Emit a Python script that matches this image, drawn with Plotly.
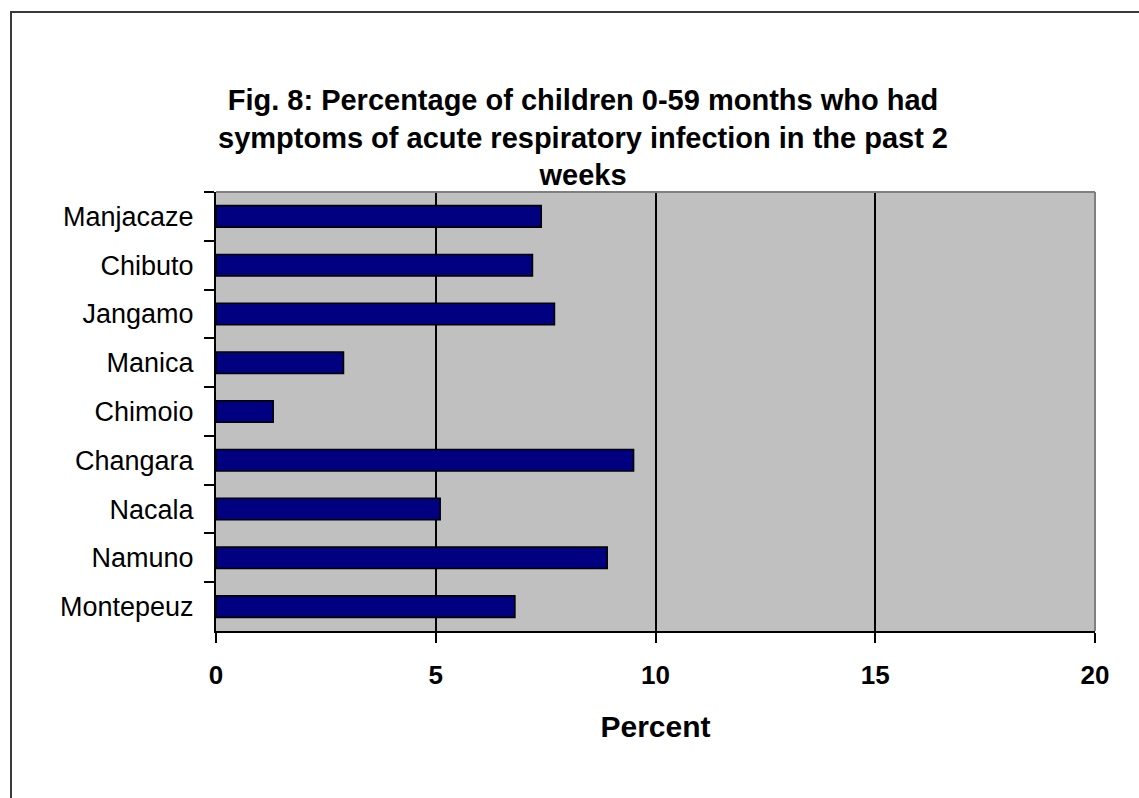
import plotly.graph_objects as go

# District-level share of children 0-59 months with ARI symptoms (%)
districts = ["Manjacaze", "Chibuto", "Jangamo", "Manica", "Chimoio",
             "Changara", "Nacala", "Namuno", "Montepeuz"]
percent = [7.4, 7.2, 7.7, 2.9, 1.3, 9.5, 5.1, 8.9, 6.8]

x_ticks = [0, 5, 10, 15, 20]
x_tick_labels = ["0", "5", "10", "15", "20"]

title_lines = [
    "Fig. 8: Percentage of children 0-59 months who had",
    "symptoms of acute respiratory infection in the past 2",
    "weeks",
]

FONT = "Liberation Sans, Arial, sans-serif"

fig = go.Figure(
    go.Bar(
        x=percent,
        y=districts,
        orientation="h",
        marker=dict(color="#000080", line=dict(color="#000000", width=1.6)),
    )
)

fig.update_layout(
    width=1139,
    height=798,
    margin=dict(l=216, r=44, t=192, b=167),
    paper_bgcolor="#FFFFFF",
    plot_bgcolor="#C0C0C0",
    bargap=0.56,
    showlegend=False,
    font=dict(family=FONT, color="#000000"),
    title=dict(
        text="<br>".join(title_lines),
        x=583 / 1139,
        xref="container",
        xanchor="center",
        y=1 - 110 / 798,
        yref="container",
        yanchor="top",
        font=dict(family=FONT, size=29, weight="bold", color="#000000"),
    ),
)

fig.update_xaxes(
    range=[0, 20],
    tickvals=x_ticks,
    ticktext=x_tick_labels,
    showgrid=True,
    gridcolor="#000000",
    gridwidth=2,
    zeroline=False,
    showline=True,
    linecolor="#000000",
    linewidth=2,
    ticks="outside",
    ticklen=10,
    tickwidth=2,
    tickcolor="#000000",
    ticklabelstandoff=10,
    tickfont=dict(family=FONT, size=26, weight="bold"),
    title=dict(text="Percent", standoff=27,
               font=dict(family=FONT, size=30, weight="bold")),
    fixedrange=True,
)

fig.update_yaxes(
    categoryorder="array",
    categoryarray=districts,
    autorange="reversed",
    showgrid=False,
    zeroline=False,
    showline=True,
    linecolor="#000000",
    linewidth=2,
    ticks="outside",
    tickson="boundaries",
    ticklen=10,
    tickwidth=2,
    tickcolor="#000000",
    ticklabelstandoff=15,
    tickfont=dict(family=FONT, size=27),
    fixedrange=True,
)

# Grey border along the top and right of the plotting area
fig.add_shape(type="line", xref="paper", yref="paper", x0=0, x1=1, y0=1, y1=1,
              line=dict(color="#808080", width=2))
fig.add_shape(type="line", xref="paper", yref="paper", x0=1, x1=1, y0=0, y1=1,
              line=dict(color="#808080", width=2))

# Outer chart frame (runs off the right and bottom edges)
fig.add_shape(type="rect", xref="paper", yref="paper",
              x0=(11 - 216) / 879, x1=(1150 - 216) / 879,
              y0=(631 - 810) / 439, y1=(631 - 12) / 439,
              line=dict(color="#3A3A3A", width=2), fillcolor="rgba(0,0,0,0)")

fig.write_html("out.html", config={"displayModeBar": False})
